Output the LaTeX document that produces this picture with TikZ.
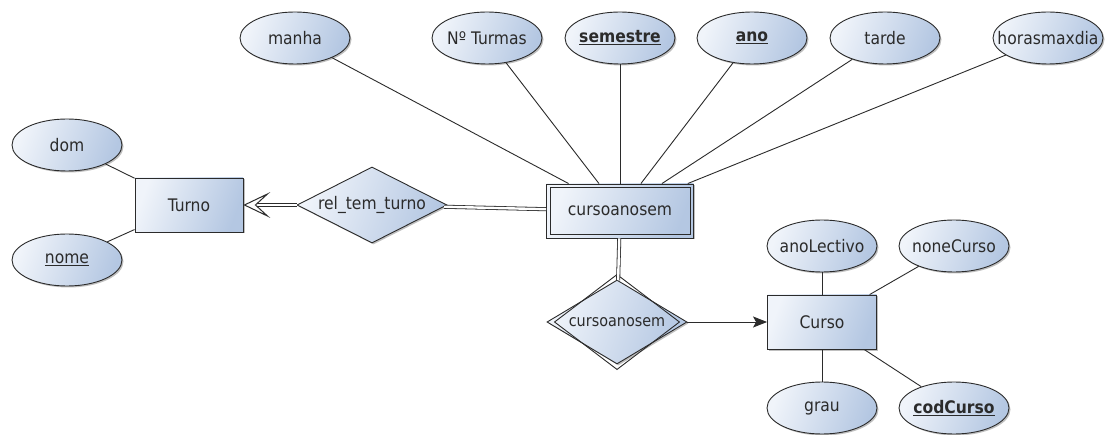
\documentclass[tikz,border=0pt]{standalone}
\usepackage{fontspec}
\setmainfont{DejaVu Sans Condensed}
\usetikzlibrary{shapes.geometric,arrows.meta,shadows,calc}
\definecolor{erlight}{HTML}{F0F4FA}
\definecolor{erdark}{HTML}{B4C7E2}
\definecolor{erline}{HTML}{2B2B2B}
\newcommand{\snug}[1]{\makebox[30pt][c]{#1}}
\tikzset{
  erfill/.style={left color=erlight, right color=erdark, shading angle=70},
  ershadow/.style={drop shadow={shadow xshift=1.5pt, shadow yshift=-1.5pt, opacity=0.25, fill=black}},
  erfont/.style={font=\fontsize{17.3}{20}\selectfont, text=erline},
  attr/.style={ellipse, draw=erline, line width=0.9pt, erfill, ershadow, erfont,
    minimum width=110pt, minimum height=52pt, inner sep=0pt},
  entity/.style={rectangle, draw=erline, line width=0.9pt, erfill, ershadow, erfont,
    minimum height=54pt, inner sep=0pt},
  relation/.style={diamond, draw=erline, line width=0.9pt, erfill, ershadow, erfont,
    inner sep=0pt, aspect=1.6},
  link/.style={draw=erline, line width=0.9pt},
  dbllink/.style={draw=erline, line width=0.8pt, double=white, double distance=2.4pt},
  hollowhead/.style={draw=erline, fill=white, line width=1pt, line join=miter},
}
\begin{document}
\begin{tikzpicture}[x=1pt, y=-1pt]
  \useasboundingbox[fill=white] (0,0) rectangle (1110,435);

  % entities
  \node[entity, minimum width=108pt] (turno) at (189,205) {Turno};
  \node[entity, minimum width=147pt] (cas) at (620,211) {cursoanosem};
  \draw[erline, line width=0.9pt] ([shift={(4,4)}]cas.north west) rectangle ([shift={(-4,-4)}]cas.south east);
  \node[entity, minimum width=109pt] (curso) at (822,322) {Curso};

  % relationships
  \node[relation, minimum width=150pt, minimum height=76pt] (rel) at (372,205) {\snug{rel\_tem\_turno}};
  \node[relation, minimum width=140pt, minimum height=84pt, font=\fontsize{16}{19}\selectfont] (wrel) at (617,322) {\snug{cursoanosem}};
  \draw[erline, line width=0.9pt] ([yshift=5pt]wrel.north) -- ([xshift=-8pt]wrel.east)
    -- ([yshift=-5pt]wrel.south) -- ([xshift=8pt]wrel.west) -- cycle;

  % attributes of Turno
  \node[attr] (dom) at (67,145) {dom};
  \node[attr] (nome) at (67,260) {\underline{nome}};

  % attributes of cursoanosem
  \node[attr] (manha) at (295,38) {manha};
  \node[attr] (nturmas) at (487,38) {\snug{Nº Turmas}};
  \node[attr] (semestre) at (620,38) {\snug{\textbf{\underline{semestre}}}};
  \node[attr] (ano) at (752,38) {\textbf{\underline{ano}}};
  \node[attr] (tarde) at (885,38) {tarde};
  \node[attr] (horas) at (1048,38) {\snug{horasmaxdia}};

  % attributes of Curso
  \node[attr] (anolect) at (822,246) {\snug{anoLectivo}};
  \node[attr] (nonecurso) at (954,246) {\snug{noneCurso}};
  \node[attr] (grau) at (822,408) {grau};
  \node[attr] (codcurso) at (954,408) {\snug{\textbf{\underline{codCurso}}}};

  % attribute links
  \foreach \a/\b in {dom/turno, nome/turno,
      manha/cas, nturmas/cas, semestre/cas, ano/cas, tarde/cas, horas/cas,
      anolect/curso, nonecurso/curso, grau/curso, codcurso/curso}
    \draw[link] (\a) -- (\b);

  % relationship links
  \coordinate (tback) at ([xshift=12pt]turno.east);
  \draw[dbllink] (rel.west) -- (tback);
  % hollow arrowhead pointing at Turno
  \draw[hollowhead] ([xshift=1pt]turno.east) -- ([shift={(24,-11)}]turno.east)
    -- ([shift={(12,0)}]turno.east) -- ([shift={(24,11)}]turno.east) -- cycle;
  \draw[dbllink] (rel) -- (cas);
  \draw[dbllink] (cas) -- (wrel);
  \draw[link, -{Stealth[length=14pt, width=11pt, inset=3pt]}] (wrel.east) -- (curso.west);
\end{tikzpicture}
\end{document}
